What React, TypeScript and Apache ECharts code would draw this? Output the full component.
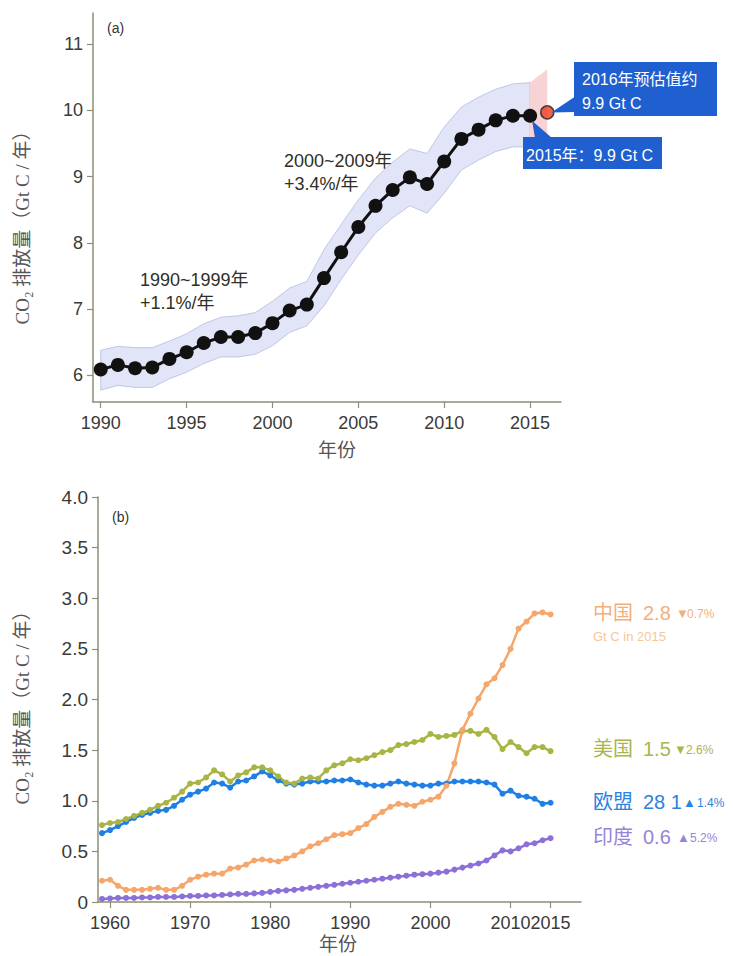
import React, { useEffect, useRef } from "react";
import * as echarts from "echarts";

// ---------- Panel (a): global CO2 emissions ----------
const yearsA = [1990, 1991, 1992, 1993, 1994, 1995, 1996, 1997, 1998, 1999, 2000, 2001, 2002, 2003, 2004, 2005, 2006, 2007, 2008, 2009, 2010, 2011, 2012, 2013, 2014, 2015];
const emissionsA = [6.09, 6.16, 6.11, 6.12, 6.25, 6.35, 6.49, 6.58, 6.58, 6.64, 6.79, 6.98, 7.07, 7.47, 7.86, 8.24, 8.56, 8.8, 8.99, 8.89, 9.23, 9.57, 9.71, 9.85, 9.92, 9.92];
const bandLowA = [5.78, 5.85, 5.82, 5.82, 5.95, 6.05, 6.18, 6.28, 6.28, 6.32, 6.45, 6.65, 6.75, 7.05, 7.45, 7.82, 8.15, 8.38, 8.56, 8.45, 8.75, 9.1, 9.25, 9.38, 9.45, 9.45];
const bandHighA = [6.38, 6.44, 6.42, 6.42, 6.52, 6.63, 6.78, 6.88, 6.9, 6.95, 7.12, 7.32, 7.42, 7.9, 8.28, 8.65, 8.98, 9.22, 9.42, 9.35, 9.75, 10.05, 10.2, 10.32, 10.4, 10.42];
const projYears = [2015, 2016];
const projLow = [9.45, 9.35];
const projHigh = [10.42, 10.62];
const estimate2016 = [2016, 9.97];
const xTicksA = [1990, 1995, 2000, 2005, 2010, 2015];
const yTicksA = [6, 7, 8, 9, 10, 11];

// ---------- Panel (b): emissions by country ----------
const yearsB = [1959, 1960, 1961, 1962, 1963, 1964, 1965, 1966, 1967, 1968, 1969, 1970, 1971, 1972, 1973, 1974, 1975, 1976, 1977, 1978, 1979, 1980, 1981, 1982, 1983, 1984, 1985, 1986, 1987, 1988, 1989, 1990, 1991, 1992, 1993, 1994, 1995, 1996, 1997, 1998, 1999, 2000, 2001, 2002, 2003, 2004, 2005, 2006, 2007, 2008, 2009, 2010, 2011, 2012, 2013, 2014, 2015];
const china = [0.21, 0.22, 0.16, 0.12, 0.12, 0.12, 0.13, 0.14, 0.12, 0.12, 0.16, 0.22, 0.25, 0.27, 0.28, 0.28, 0.33, 0.34, 0.37, 0.41, 0.42, 0.41, 0.4, 0.43, 0.46, 0.5, 0.55, 0.58, 0.62, 0.66, 0.67, 0.68, 0.73, 0.77, 0.84, 0.89, 0.94, 0.97, 0.96, 0.95, 0.99, 1.01, 1.04, 1.15, 1.37, 1.7, 1.86, 2.01, 2.15, 2.21, 2.34, 2.5, 2.7, 2.77, 2.85, 2.86, 2.84];
const usa = [0.76, 0.78, 0.79, 0.82, 0.85, 0.88, 0.91, 0.95, 0.98, 1.03, 1.09, 1.17, 1.18, 1.23, 1.3, 1.26, 1.19, 1.25, 1.28, 1.33, 1.33, 1.3, 1.24, 1.18, 1.17, 1.22, 1.23, 1.22, 1.3, 1.35, 1.37, 1.41, 1.4, 1.42, 1.45, 1.48, 1.5, 1.55, 1.56, 1.58, 1.6, 1.66, 1.63, 1.64, 1.65, 1.69, 1.69, 1.66, 1.7, 1.63, 1.51, 1.58, 1.53, 1.47, 1.53, 1.53, 1.49];
const eu28 = [0.68, 0.71, 0.75, 0.79, 0.83, 0.86, 0.88, 0.9, 0.91, 0.95, 1.01, 1.06, 1.09, 1.12, 1.18, 1.17, 1.13, 1.19, 1.2, 1.24, 1.29, 1.25, 1.2, 1.17, 1.16, 1.17, 1.19, 1.19, 1.19, 1.2, 1.2, 1.21, 1.18, 1.16, 1.15, 1.15, 1.17, 1.19, 1.17, 1.16, 1.15, 1.15, 1.17, 1.17, 1.19, 1.19, 1.19, 1.19, 1.18, 1.16, 1.07, 1.1, 1.05, 1.04, 1.02, 0.97, 0.98];
const india = [0.03, 0.035, 0.04, 0.04, 0.04, 0.045, 0.045, 0.05, 0.05, 0.05, 0.055, 0.06, 0.06, 0.065, 0.065, 0.07, 0.075, 0.08, 0.08, 0.085, 0.09, 0.1, 0.11, 0.115, 0.12, 0.13, 0.14, 0.15, 0.16, 0.17, 0.18, 0.19, 0.2, 0.21, 0.22, 0.23, 0.24, 0.25, 0.26, 0.27, 0.275, 0.28, 0.29, 0.3, 0.32, 0.34, 0.36, 0.38, 0.41, 0.46, 0.51, 0.5, 0.53, 0.57, 0.58, 0.61, 0.63];
const xTicksB = [1960, 1970, 1980, 1990, 2000, 2010, 2015];
const xLabelsB = [1960, 1970, 1980, 1990, 2000, 2010];
const xLabelsBLast = [2015];

const countryLabels = [
  { name: "中国", value: "2.8", arrow: "▼", pct: "0.7%", color: "#f3b07a", y: 613, arrowX: 676, pctX: 687 },
  { name: "美国", value: "1.5", arrow: "▼", pct: "2.6%", color: "#aab54c", y: 749, arrowX: 674, pctX: 686 },
  { name: "欧盟", value: "28 1", arrow: "▲", pct: "1.4%", color: "#2a83e0", y: 802, arrowX: 683, pctX: 697 },
  { name: "印度", value: "0.6", arrow: "▲", pct: "5.2%", color: "#9783d8", y: 837, arrowX: 677, pctX: 690 },
];

const SANS = "'Liberation Sans', Arial, 'Noto Sans CJK SC', sans-serif";
const SERIF = "'Liberation Serif', 'DejaVu Serif', 'Noto Sans CJK SC', serif";
const AXIS_COLOR = "#8e8e72";
const LABEL_COLOR = "#3a3a36";

const pairs = (xs: number[], ys: number[]) => xs.map((x, i) => [x, ys[i]]);

function txt(text: string, x: number, y: number, size: number, fill: string, extra: any = {}) {
  return {
    type: "text",
    x,
    y,
    silent: true,
    ...extra,
    style: {
      text,
      fill,
      fontSize: size,
      fontFamily: extra.fontFamily || SANS,
      textAlign: extra.align || "left",
      textVerticalAlign: "middle",
      align: extra.align || "left",
      verticalAlign: "middle",
    },
  };
}

// band polygon drawn through the axis scales (custom series)
function bandSeries(xs: number[], lo: number[], hi: number[], fill: string, stroke: string) {
  return {
    type: "custom",
    xAxisIndex: 0,
    yAxisIndex: 0,
    data: [[xs[0], lo[0]]],
    z: 1,
    silent: true,
    renderItem: (_params: any, api: any) => {
      const upper = xs.map((x, i) => api.coord([x, hi[i]]));
      const lower = xs.map((x, i) => api.coord([x, lo[i]])).reverse();
      return {
        type: "polygon",
        shape: { points: [...upper, ...lower] },
        style: { fill, stroke, lineWidth: stroke === "none" ? 0 : 0.8 },
      };
    },
  };
}

export default function App() {
  const ref = useRef<HTMLDivElement>(null);

  useEffect(() => {
    if (!ref.current) return;
    const chart = echarts.init(ref.current, undefined, { renderer: "svg" });

    const axisCommon = {
      axisLine: { show: true, lineStyle: { color: AXIS_COLOR, width: 1.5 } },
      axisTick: { show: true, inside: false, length: 6, lineStyle: { color: AXIS_COLOR, width: 1.2 } },
      splitLine: { show: false },
    };
    const plain = (v: number) => String(v);
    const labelB = { formatter: plain, color: LABEL_COLOR, fontSize: 18, fontFamily: SANS, margin: 12, hideOverlap: false };

    const option: any = {
      animation: false,
      backgroundColor: "#ffffff",
      grid: [
        { left: 93, top: 13, width: 468, height: 389 },
        { left: 98, top: 497, width: 483, height: 405 },
      ],
      xAxis: [
        {
          gridIndex: 0,
          type: "value",
          min: 1989.55,
          max: 2016.8,
          ...axisCommon,
          axisTick: { ...axisCommon.axisTick, customValues: xTicksA },
          axisLabel: { customValues: xTicksA, formatter: plain, color: LABEL_COLOR, fontSize: 18, fontFamily: SANS, margin: 12, hideOverlap: false },
        },
        {
          gridIndex: 1,
          type: "value",
          min: 1958.5,
          max: 2018.8,
          ...axisCommon,
          axisTick: { ...axisCommon.axisTick, customValues: xTicksB },
          axisLabel: { ...labelB, customValues: xLabelsB },
        },
        {
          gridIndex: 1,
          type: "value",
          min: 1958.5,
          max: 2018.8,
          position: "bottom",
          axisLine: { show: false },
          axisTick: { show: false },
          splitLine: { show: false },
          axisLabel: { ...labelB, customValues: xLabelsBLast },
        },
      ],
      yAxis: [
        {
          gridIndex: 0,
          type: "value",
          min: 5.6,
          max: 11.47,
          ...axisCommon,
          axisTick: { ...axisCommon.axisTick, customValues: yTicksA },
          axisLabel: { customValues: yTicksA, formatter: plain, color: LABEL_COLOR, fontSize: 18, fontFamily: SANS, margin: 10 },
        },
        {
          gridIndex: 1,
          type: "value",
          min: 0,
          max: 4,
          interval: 0.5,
          ...axisCommon,
          axisLabel: {
            color: LABEL_COLOR,
            fontSize: 19,
            fontFamily: SANS,
            margin: 10,
            formatter: (v: number) => (v === 0 ? "0" : v.toFixed(1)),
          },
        },
      ],
      series: [
        bandSeries(yearsA, bandLowA, bandHighA, "#e1e5f7", "#b3bce2"),
        bandSeries(projYears, projLow, projHigh, "#f8d3d6", "none"),
        {
          type: "line",
          xAxisIndex: 0,
          yAxisIndex: 0,
          data: pairs(yearsA, emissionsA),
          symbol: "circle",
          symbolSize: 14,
          itemStyle: { color: "#111111" },
          lineStyle: { color: "#111111", width: 3 },
          z: 3,
        },
        {
          type: "scatter",
          xAxisIndex: 0,
          yAxisIndex: 0,
          data: [estimate2016],
          symbol: "circle",
          symbolSize: 13,
          itemStyle: { color: "#ee3d1e", borderColor: "#222222", borderWidth: 1.5 },
          z: 4,
        },
        ...[
          { d: india, c: "#8d6fd8" },
          { d: eu28, c: "#1f7fe3" },
          { d: usa, c: "#a8b545" },
          { d: china, c: "#f5a66b" },
        ].map((s) => ({
          type: "line",
          xAxisIndex: 1,
          yAxisIndex: 1,
          data: pairs(yearsB, s.d),
          symbol: "circle",
          symbolSize: 6,
          itemStyle: { color: s.c },
          lineStyle: { color: s.c, width: 2.5 },
        })),
      ],
    };
    chart.setOption(option);

    const p16 = chart.convertToPixel({ xAxisIndex: 0, yAxisIndex: 0 }, estimate2016) as number[];
    const p15 = chart.convertToPixel({ xAxisIndex: 0, yAxisIndex: 0 }, [2015, emissionsA[emissionsA.length - 1]]) as number[];
    const BOX = "#1f5fcf";

    const graphic: any[] = [
      // callout 2016
      { type: "polygon", shape: { points: [[576, 96], [576, 112], [p16[0] + 4, p16[1]]] }, style: { fill: BOX }, z: 10 },
      { type: "rect", shape: { x: 574, y: 62, width: 143, height: 54 }, style: { fill: BOX }, z: 10 },
      txt("2016年预估值约", 582, 79, 16, "#ffffff", { z: 11 }),
      txt("9.9 Gt C", 582, 103, 16, "#ffffff", { z: 11 }),
      // callout 2015
      { type: "polygon", shape: { points: [[535, 138], [552, 138], [p15[0] + 2, p15[1] + 5]] }, style: { fill: BOX }, z: 10 },
      { type: "rect", shape: { x: 523, y: 137, width: 139, height: 32 }, style: { fill: BOX }, z: 10 },
      txt("2015年：9.9 Gt C", 526, 155, 16, "#ffffff", { z: 11 }),
      // panel (a) annotations
      txt("(a)", 107, 28, 14, "#333333"),
      txt("1990~1999年", 140, 280, 18, "#2f2f25"),
      txt("+1.1%/年", 140, 303, 18, "#2f2f25"),
      txt("2000~2009年", 284, 161, 18, "#2f2f25"),
      txt("+3.4%/年", 284, 184, 18, "#2f2f25"),
      txt("CO₂ 排放量（Gt C / 年）", 22, 223, 19, "#555555", { rotation: Math.PI / 2, align: "center", fontFamily: SERIF }),
      txt("年份", 337, 450, 19, "#555555", { align: "center", fontFamily: SERIF }),
      // panel (b)
      txt("(b)", 112, 517, 14, "#333333"),
      txt("CO₂ 排放量（Gt C / 年）", 22, 703, 19, "#555555", { rotation: Math.PI / 2, align: "center", fontFamily: SERIF }),
      txt("年份", 338, 944, 19, "#555555", { align: "center", fontFamily: SERIF }),
      txt("Gt C in 2015", 593, 636, 13, "#f6c79a"),
    ];
    countryLabels.forEach((l) => {
      graphic.push(txt(l.name, 593, l.y, 20, l.color));
      graphic.push(txt(l.value, 643, l.y, 20, l.color));
      graphic.push(txt(l.arrow, l.arrowX, l.y, 13, l.color));
      graphic.push(txt(l.pct, l.pctX, l.y + 1, 12, l.color));
    });
    chart.setOption({ graphic });

    return () => chart.dispose();
  }, []);

  return <div ref={ref} style={{ position: "absolute", left: 0, top: 0, width: 733, height: 956 }} />;
}
